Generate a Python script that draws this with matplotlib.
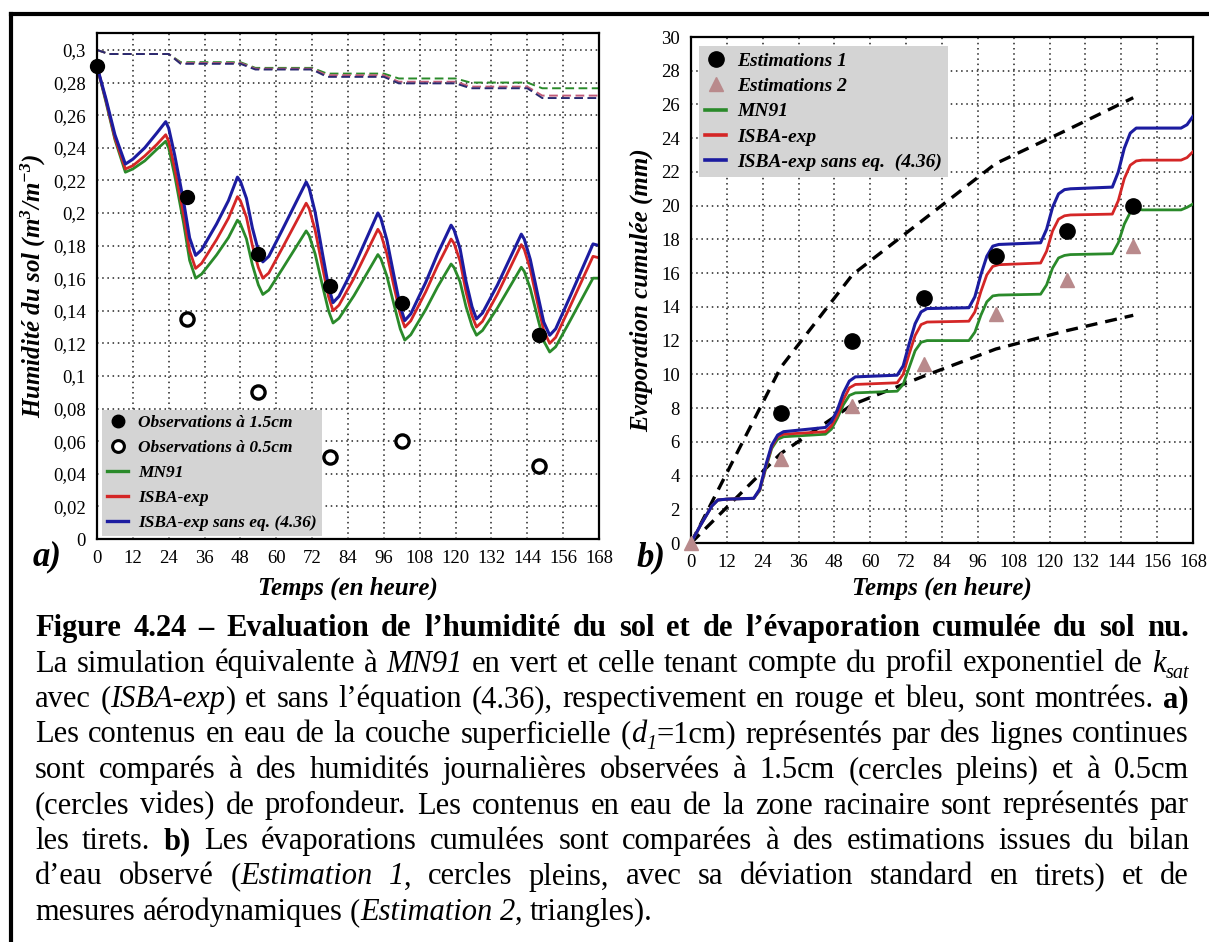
import re
import numpy as np
import matplotlib
matplotlib.use('Agg')
import matplotlib.pyplot as plt
from matplotlib.lines import Line2D
from matplotlib.ticker import FuncFormatter

# ---------------- data : panel a) ----------------
T_A = [0, 3, 6, 9.5, 12, 16, 20, 23,
       24, 26, 29, 31, 33, 35, 40, 44, 47,
       48, 50, 52, 54, 55.5, 57.5, 62, 66, 70,
       71, 73, 75.5, 77.5, 79, 81, 86, 90, 94,
       95, 97, 99.5, 101.5, 103, 105, 110, 114, 118.5,
       119.5, 121.5, 123.5, 125.5, 127, 129, 134, 138, 142,
       143, 145, 147.5, 149.5, 151.5, 153.5, 158, 162, 166, 168]
BLUE_A = [0.290, 0.270, 0.248, 0.230, 0.233, 0.240, 0.249, 0.256,
          0.252, 0.2355, 0.2068, 0.1847, 0.174, 0.1774, 0.1932, 0.2076, 0.222,
          0.2194, 0.209, 0.1908, 0.1768, 0.170, 0.1734, 0.1896, 0.2043, 0.219,
          0.2153, 0.2005, 0.1746, 0.1546, 0.145, 0.1489, 0.167, 0.1835, 0.200,
          0.1967, 0.1835, 0.1604, 0.1426, 0.134, 0.1381, 0.1574, 0.175, 0.1925,
          0.1896, 0.1781, 0.158, 0.1425, 0.135, 0.1386, 0.1558, 0.1714, 0.187,
          0.1839, 0.1715, 0.1498, 0.1331, 0.125, 0.1289, 0.1474, 0.1642, 0.181, 0.180]
RED_A = [0.290, 0.269, 0.246, 0.227, 0.229, 0.235, 0.242, 0.248,
         0.2439, 0.2275, 0.1988, 0.1767, 0.166, 0.1691, 0.1836, 0.1968, 0.210,
         0.2075, 0.1975, 0.180, 0.1665, 0.160, 0.1632, 0.1784, 0.1922, 0.206,
         0.2027, 0.1895, 0.1664, 0.1486, 0.140, 0.1435, 0.160, 0.175, 0.190,
         0.187, 0.175, 0.154, 0.1378, 0.130, 0.1338, 0.1516, 0.1678, 0.184,
         0.1813, 0.1705, 0.1516, 0.137, 0.130, 0.1335, 0.1502, 0.1654, 0.1806,
         0.1776, 0.1655, 0.1442, 0.1279, 0.120, 0.1237, 0.1414, 0.1574, 0.1734, 0.1725]
GREEN_A = [0.290, 0.268, 0.245, 0.225, 0.227, 0.232, 0.239, 0.244,
           0.2398, 0.223, 0.1936, 0.1709, 0.160, 0.1625, 0.1742, 0.1849, 0.1956,
           0.1933, 0.1842, 0.1682, 0.1559, 0.150, 0.1527, 0.1656, 0.1773, 0.189,
           0.1862, 0.1749, 0.1551, 0.1399, 0.1325, 0.1354, 0.1493, 0.1619, 0.1745,
           0.1719, 0.1614, 0.143, 0.1288, 0.122, 0.1253, 0.1407, 0.1547, 0.1687,
           0.1665, 0.1578, 0.1425, 0.1307, 0.125, 0.1279, 0.1417, 0.1542, 0.1667,
           0.1641, 0.1537, 0.1355, 0.1215, 0.1147, 0.1179, 0.1328, 0.1464, 0.160, 0.160]

T_DASH = [0, 4, 24, 28, 48, 53, 72, 77, 96, 101, 120, 125, 144, 149, 168]
BLUE_DASH = [0.300, 0.2975, 0.2975, 0.2915, 0.2915, 0.288, 0.288, 0.2835, 0.2835,
             0.2795, 0.2795, 0.2765, 0.2765, 0.2705, 0.2705]
RED_DASH = [0.300, 0.2975, 0.2975, 0.292, 0.292, 0.2885, 0.2885, 0.2845, 0.2845,
            0.2805, 0.2805, 0.2775, 0.2775, 0.272, 0.272]
GREEN_DASH = [0.300, 0.2975, 0.2975, 0.2925, 0.2925, 0.289, 0.289, 0.2855, 0.2855,
              0.2825, 0.2825, 0.280, 0.280, 0.2765, 0.2765]

T_OBS15 = [0, 30, 54, 78, 102, 148]
OBS15 = [0.29, 0.21, 0.175, 0.155, 0.145, 0.125]
T_OBS05 = [30, 54, 78, 102, 148]
OBS05 = [0.135, 0.09, 0.05, 0.06, 0.045]

# ---------------- data : panel b) ----------------
T_B = [0, 1.5, 3, 5, 7, 9, 12,
       21, 23, 25, 27, 29, 31,
       45, 47, 49, 51, 53, 55,
       69, 71, 73, 75, 77, 79,
       93, 95, 97, 99, 101, 103,
       117, 119, 121, 123, 125, 127,
       141, 143, 145, 147, 149, 151,
       164, 166, 168]
BLUE_B = [0, 0.5, 1.0, 1.6, 2.2, 2.55, 2.6,
          2.65, 3.2, 4.6, 5.8, 6.4, 6.6,
          6.85, 7.2, 7.9, 8.9, 9.6, 9.85,
          9.95, 10.5, 11.8, 13.0, 13.7, 13.9,
          13.95, 14.6, 15.9, 17.0, 17.6, 17.7,
          17.8, 18.6, 19.9, 20.7, 20.95, 21.0,
          21.1, 22.0, 23.4, 24.3, 24.6, 24.6,
          24.6, 24.8, 25.3]
RED_B = [0, 0.5, 1.0, 1.6, 2.2, 2.55, 2.6,
         2.65, 3.15, 4.5, 5.7, 6.3, 6.45,
         6.6, 6.95, 7.6, 8.5, 9.2, 9.4,
         9.5, 10.0, 11.2, 12.3, 12.95, 13.1,
         13.15, 13.7, 14.9, 15.9, 16.4, 16.5,
         16.6, 17.3, 18.5, 19.2, 19.4, 19.45,
         19.5, 20.3, 21.6, 22.4, 22.65, 22.7,
         22.7, 22.85, 23.2]
GREEN_B = [0, 0.5, 1.0, 1.6, 2.2, 2.55, 2.6,
           2.65, 3.1, 4.4, 5.6, 6.15, 6.3,
           6.45, 6.75, 7.4, 8.2, 8.75, 8.9,
           9.0, 9.4, 10.4, 11.4, 11.9, 12.0,
           12.0, 12.5, 13.5, 14.3, 14.65, 14.7,
           14.75, 15.3, 16.3, 16.9, 17.05, 17.1,
           17.15, 17.8, 18.9, 19.6, 19.8, 19.75,
           19.75, 19.9, 20.1]

T_EST1 = [30, 54, 78, 102, 126, 148]
EST1 = [7.7, 12.0, 14.5, 17.0, 18.5, 20.0]
T_EST2 = [0, 30, 54, 78, 102, 126, 148]
EST2 = [0, 5.0, 8.1, 10.6, 13.6, 15.6, 17.6]
T_SD = [0, 30, 54, 78, 102, 126, 148]
SD_UPPER = [0, 10.4, 15.9, 19.2, 22.5, 24.5, 26.4]
SD_LOWER = [0, 5.3, 8.2, 9.9, 11.5, 12.6, 13.5]

X_TICKS = list(range(0, 169, 12))
YA_TICKS = [round(0.02 * k, 2) for k in range(16)]
YB_TICKS = list(range(0, 31, 2))

LEG_A = ['Observations à 1.5cm', 'Observations à 0.5cm', 'MN91', 'ISBA-exp',
         'ISBA-exp sans eq. (4.36)']
LEG_B = ['Estimations 1', 'Estimations 2', 'MN91', 'ISBA-exp',
         'ISBA-exp sans eq.  (4.36)']

CAPTION_LINES = [
    "**Figure 4.24 – Evaluation de l’humidité du sol et de l’évaporation cumulée du sol nu.**",
    "La simulation équivalente à *MN91* en vert et celle tenant compte du profil exponentiel de *k*~sat~",
    "avec (*ISBA-exp*) et sans l’équation (4.36), respectivement en rouge et bleu, sont montrées. **a)**",
    "Les contenus en eau de la couche superficielle (*d*~1~=1cm) représentés par des lignes continues",
    "sont comparés à des humidités journalières observées à 1.5cm (cercles pleins) et à 0.5cm",
    "(cercles vides) de profondeur. Les contenus en eau de la zone racinaire sont représentés par",
    "les tirets. **b)** Les évaporations cumulées sont comparées à des estimations issues du bilan",
    "d’eau observé (*Estimation 1*, cercles pleins, avec sa déviation standard en tirets) et de",
    "mesures aérodynamiques (*Estimation 2*, triangles).",
]

# ---------------- style ----------------
SERIF = 'Liberation Serif'
plt.rcParams['font.family'] = [SERIF, 'DejaVu Serif']
plt.rcParams['mathtext.fontset'] = 'custom'
plt.rcParams['mathtext.rm'] = 'Liberation Serif:bold:italic'
plt.rcParams['mathtext.it'] = 'Liberation Serif:bold:italic'
plt.rcParams['mathtext.bf'] = 'Liberation Serif:bold:italic'

BLUE = '#1c1ca0'
RED = '#d42626'
GREEN = '#2a8a2a'
ROSY = '#b98a8c'

W, H = 1209, 942
fig = plt.figure(figsize=(W / 100, H / 100), dpi=100)


def rect(x0, y0, x1, y1):
    return [x0 / W, 1 - y1 / H, (x1 - x0) / W, (y1 - y0) / H]


axa = fig.add_axes(rect(97, 33, 599, 539))
axb = fig.add_axes(rect(691, 37, 1193, 543))

lab_font = dict(family=SERIF, weight='bold', style='italic', size=18)
grid_kw = dict(color='#222222', lw=1.1, linestyle=(0, (1, 2.4)))

for ax in (axa, axb):
    ax.set_axisbelow(True)
    ax.grid(True, **grid_kw)
    ax.set_xlim(0, 168)
    ax.set_xticks(X_TICKS)
    ax.tick_params(length=0, labelsize=13.5, pad=8)
    for s in ax.spines.values():
        s.set_linewidth(1.6)
        s.set_color('black')

# ---- panel a
for tvals, col in [(GREEN_DASH, GREEN), (RED_DASH, '#c05a78'), (BLUE_DASH, '#2a2a70')]:
    axa.plot(T_DASH, tvals, color=col, lw=1.4, dashes=(4.5, 2.3))
axa.plot(T_A, GREEN_A, color=GREEN, lw=2.0)
axa.plot(T_A, RED_A, color=RED, lw=2.0)
axa.plot(T_A, BLUE_A, color=BLUE, lw=2.2)
axa.plot(T_OBS15, OBS15, ls='none', marker='o', ms=10, mfc='black', mec='black',
         zorder=5, clip_on=False)
axa.plot(T_OBS05, OBS05, ls='none', marker='o', ms=9.5, mfc='white', mec='black',
         mew=2.4, zorder=5)
axa.set_ylim(0, 0.3104)
axa.set_yticks(YA_TICKS)
axa.yaxis.set_major_formatter(FuncFormatter(lambda v, p: ('%g' % round(v, 2)).replace('.', ',')))
axa.set_ylabel('Humidité du sol (m$^3$/m$^{-3}$)', fontdict=lab_font, va='center')
axa.yaxis.set_label_coords(-0.127, 0.5)
axa.set_xlabel('Temps (en heure)', fontdict=lab_font, va='center')
axa.xaxis.set_label_coords(0.5, -0.097)

hA = [Line2D([], [], ls='none', marker='o', ms=9, mfc='black', mec='black'),
      Line2D([], [], ls='none', marker='o', ms=8.5, mfc='white', mec='black', mew=2.2),
      Line2D([], [], color=GREEN, lw=2.4),
      Line2D([], [], color=RED, lw=2.4),
      Line2D([], [], color=BLUE, lw=2.4)]
legA = axa.legend(hA, LEG_A, loc='lower left', bbox_to_anchor=(0.01, 0.006),
                  prop=dict(family=SERIF, weight='bold', style='italic', size=12.5),
                  frameon=True, facecolor='#d4d4d4', edgecolor='none', framealpha=1,
                  fancybox=False, borderpad=0.3, labelspacing=0.5, handlelength=1.2,
                  handletextpad=0.6, borderaxespad=0)
legA.set_zorder(6)

# ---- panel b
axb.plot(T_SD, SD_UPPER, color='black', lw=2.4, dashes=(3.6, 2.4), zorder=3)
axb.plot(T_SD, SD_LOWER, color='black', lw=2.4, dashes=(3.6, 2.4), zorder=3)
axb.plot(T_B, GREEN_B, color=GREEN, lw=2.0, zorder=4)
axb.plot(T_B, RED_B, color=RED, lw=2.0, zorder=4)
axb.plot(T_B, BLUE_B, color=BLUE, lw=2.2, zorder=4)
axb.plot(T_EST2, EST2, ls='none', marker='^', ms=10, mfc=ROSY, mec=ROSY, zorder=5,
         clip_on=False)
axb.plot(T_EST1, EST1, ls='none', marker='o', ms=11, mfc='black', mec='black', zorder=6)
axb.set_ylim(0, 30)
axb.set_yticks(YB_TICKS)
axb.set_ylabel('Evaporation cumulée (mm)', fontdict=lab_font, va='center')
axb.yaxis.set_label_coords(-0.0996, 0.5)
axb.set_xlabel('Temps (en heure)', fontdict=lab_font, va='center')
axb.xaxis.set_label_coords(0.5, -0.089)

hB = [Line2D([], [], ls='none', marker='o', ms=11, mfc='black', mec='black'),
      Line2D([], [], ls='none', marker='^', ms=10, mfc=ROSY, mec=ROSY),
      Line2D([], [], color=GREEN, lw=2.6),
      Line2D([], [], color=RED, lw=2.6),
      Line2D([], [], color=BLUE, lw=2.6)]
legB = axb.legend(hB, LEG_B, loc='upper left', bbox_to_anchor=(0.016, 0.982),
                  prop=dict(family=SERIF, weight='bold', style='italic', size=14),
                  frameon=True, facecolor='#d4d4d4', edgecolor='none', framealpha=1,
                  fancybox=False, borderpad=0.3, labelspacing=0.4, handlelength=1.1,
                  handletextpad=0.55, borderaxespad=0)
legB.set_zorder(7)

# panel tags
tag_kw = dict(family=SERIF, weight='bold', style='italic', size=25, ha='center', va='center')
fig.text(47 / W, 1 - 557 / H, 'a)', **tag_kw)
fig.text(651 / W, 1 - 558 / H, 'b)', **tag_kw)

# outer frame (top and left edges visible)
fig.add_artist(Line2D([11 / W, 11 / W], [0, 1 - 14 / H], color='black', lw=3,
                      transform=fig.transFigure, solid_capstyle='projecting'))
fig.add_artist(Line2D([11 / W, 1.0], [1 - 14 / H, 1 - 14 / H], color='black', lw=3,
                      transform=fig.transFigure, solid_capstyle='projecting'))

# ---------------- caption (justified) ----------------
CAP_MAX = 22.0
CAP_L, CAP_R = 35, 1189
BASELINES = [636, 671.5, 707, 742.5, 778, 813.5, 849, 884.5, 920]
renderer = fig.canvas.get_renderer()


def style_kw(st, size):
    if st == 'b':
        return dict(fontsize=size, fontweight='bold')
    if st == 'i':
        return dict(fontsize=size, fontstyle='italic')
    if st == 's':
        return dict(fontsize=size * 0.66, fontstyle='italic')
    return dict(fontsize=size)


def parse(line):
    segs = []
    for m in re.finditer(r'\*\*(.+?)\*\*|\*(.+?)\*|~(.+?)~|([^*~]+)', line):
        if m.group(1):
            segs.append((m.group(1), 'b'))
        elif m.group(2):
            segs.append((m.group(2), 'i'))
        elif m.group(3):
            segs.append((m.group(3), 's'))
        else:
            segs.append((m.group(4), 'n'))
    words = [[]]
    for txt, st in segs:
        parts = txt.split(' ')
        for k, p in enumerate(parts):
            if k > 0:
                words.append([])
            if p:
                words[-1].append((p, st))
    return [w for w in words if w]


def measure(txt, st, size):
    t = fig.text(0, 0, txt, family=SERIF, **style_kw(st, size))
    w = t.get_window_extent(renderer=renderer).width
    t.remove()
    return w


parsed = [parse(l) for l in CAPTION_LINES]
# choose the caption size so every justified line keeps at least ~90% of a normal space
space_max = measure('a a', 'n', CAP_MAX) - measure('aa', 'n', CAP_MAX)
ratio = 1.0
for words in parsed[:-1]:
    tot = sum(measure(p, s, CAP_MAX) for w in words for p, s in w)
    need = tot + 0.9 * space_max * (len(words) - 1)
    ratio = min(ratio, (CAP_R - CAP_L) / need)
CAP_SIZE = CAP_MAX * ratio
space_w = space_max * ratio

for i, words in enumerate(parsed):
    widths = [[measure(p, s, CAP_SIZE) for p, s in w] for w in words]
    total = sum(sum(ws) for ws in widths)
    last = (i == len(parsed) - 1)
    gap = space_w if last else (CAP_R - CAP_L - total) / (len(words) - 1)
    x = CAP_L
    yb = BASELINES[i]
    for w, ws in zip(words, widths):
        xx = x
        for (p, s), pw in zip(w, ws):
            dy = 0.22 * CAP_SIZE * 100 / 72 if s == 's' else 0
            fig.text(xx / W, 1 - (yb + dy) / H, p, family=SERIF, ha='left', va='baseline',
                     **style_kw(s, CAP_SIZE))
            xx += pw
        x += sum(ws) + gap

fig.savefig('out.png', dpi=100)
